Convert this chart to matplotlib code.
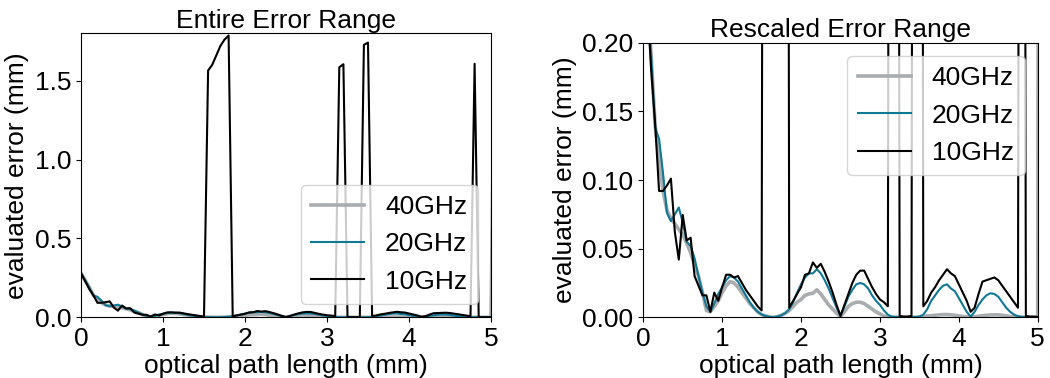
import numpy as np
import matplotlib
matplotlib.use("Agg")
import matplotlib.pyplot as plt

plt.rcParams['font.family'] = ['Liberation Sans', 'DejaVu Sans']

step_mm = 0.05  # sampling step of optical path length

err_10ghz = [0.280, 0.230, 0.180, 0.141, 0.092, 0.092, 0.096, 0.101, 0.062, 0.042,
             0.0745, 0.056, 0.058, 0.030, 0.023, 0.016, 0.016, 0.004, 0.018, 0.012,
             0.022, 0.031, 0.031, 0.029, 0.030, 0.025, 0.020, 0.016, 0.012, 0.008,
             0.005, 1.564, 1.600, 1.660, 1.720, 1.760, 1.786, 0.007, 0.012, 0.017,
             0.022, 0.031, 0.032, 0.040, 0.036, 0.039, 0.033, 0.026, 0.018, 0.009,
             0.001, 0.009, 0.017, 0.025, 0.031, 0.034, 0.034, 0.028, 0.022, 0.017,
             0.013, 0.011, 0.008, 1.585, 1.604, 0.001, 0.0005, 0.0005, 0.001, 1.727,
             1.741, 0.008, 0.012, 0.018, 0.022, 0.027, 0.031, 0.035, 0.032, 0.030,
             0.024, 0.018, 0.012, 0.004, 0.007, 0.017, 0.026, 0.027, 0.028, 0.029,
             0.027, 0.023, 0.019, 0.015, 0.011, 0.007, 1.607, 0.001, 0.0005, 0.0005,
             0.0003, 0.0003]

err_20ghz = [0.280, 0.235, 0.190, 0.138, 0.130, 0.105, 0.076, 0.070, 0.075, 0.080,
             0.069, 0.055, 0.052, 0.043, 0.030, 0.018, 0.008, 0.004, 0.010, 0.017,
             0.022, 0.027, 0.030, 0.029, 0.026, 0.021, 0.016, 0.011, 0.007, 0.004,
             0.002, 0.001, 0.0003, 0.0, 0.0005, 0.0015, 0.003, 0.006, 0.011, 0.018,
             0.024, 0.029, 0.032, 0.032, 0.035, 0.032, 0.027, 0.021, 0.014, 0.007,
             0.001, 0.008, 0.015, 0.020, 0.024, 0.025, 0.024, 0.021, 0.016, 0.012,
             0.009, 0.005, 0.002, 0.0005, 0.0002, 0.0001, 0.0, 0.0, 0.0001, 0.0002,
             0.0005, 0.002, 0.006, 0.012, 0.016, 0.020, 0.023, 0.024, 0.021, 0.019,
             0.014, 0.009, 0.004, 0.0005, 0.004, 0.009, 0.013, 0.016, 0.0175, 0.017,
             0.015, 0.011, 0.007, 0.004, 0.002, 0.0008, 0.0003, 0.0002, 0.0001, 0.0001,
             0.0001, 0.0001]

err_40ghz = [0.280, 0.235, 0.190, 0.140, 0.115, 0.092, 0.078, 0.072, 0.068, 0.064,
             0.060, 0.054, 0.047, 0.038, 0.030, 0.018, 0.005, 0.004, 0.008, 0.012,
             0.018, 0.023, 0.026, 0.025, 0.022, 0.018, 0.014, 0.010, 0.007, 0.004,
             0.002, 0.001, 0.0003, 0.0, 0.0005, 0.0015, 0.003, 0.005, 0.008, 0.011,
             0.013, 0.016, 0.017, 0.0175, 0.020, 0.017, 0.013, 0.009, 0.006, 0.003,
             0.0005, 0.004, 0.008, 0.010, 0.011, 0.011, 0.010, 0.008, 0.006, 0.004,
             0.0025, 0.001, 0.0003, 0.0001, 0.0001, 0.0001, 0.0001, 0.0001, 0.0001, 0.0001,
             0.0001, 0.0005, 0.001, 0.0012, 0.0015, 0.0018, 0.002, 0.002, 0.0018, 0.0015,
             0.001, 0.0006, 0.0003, 0.0001, 0.0004, 0.0008, 0.0012, 0.0015, 0.0017, 0.0018,
             0.0018, 0.0015, 0.001, 0.0006, 0.0003, 0.0001, 0.0001, 0.0001, 0.0001, 0.0001,
             0.0001, 2.0]

labels = ['40GHz', '20GHz', '10GHz']
colors = ['#a9adaf', '#0f7895', '#000000']
widths = [2.6, 1.5, 1.5]
titles = ['Entire Error Range', 'Rescaled Error Range']
x_ticks = [0, 1, 2, 3, 4, 5]
y_ticks_left = [0.0, 0.5, 1.0, 1.5]
y_ticks_right = [0.00, 0.05, 0.10, 0.15, 0.20]

x = np.arange(len(err_10ghz)) * step_mm
series = [err_40ghz, err_20ghz, err_10ghz]

FS = 19
fig = plt.figure(figsize=(10.5, 3.78), dpi=100)
W, H = 1050, 378
axL = fig.add_axes([81 / W, (H - 317.3) / H, 410 / W, 284 / H])
axR = fig.add_axes([643.3 / W, (H - 317.3) / H, 394.4 / W, 274.6 / H])

for ax in (axL, axR):
    for s, lab, c, lw in zip(series, labels, colors, widths):
        ax.plot(x, s, color=c, lw=lw, label=lab)
    ax.set_xlim(0, 5)
    ax.set_xticks(x_ticks)
    ax.set_xlabel('optical path length (mm)', fontsize=FS, labelpad=2)
    ax.set_ylabel('evaluated error (mm)', fontsize=FS, labelpad=4)
    ax.tick_params(labelsize=FS)

axL.set_ylim(0, 1.8)
axL.set_yticks(y_ticks_left)
axL.set_yticklabels(['0.0', '0.5', '1.0', '1.5'])
axL.set_title(titles[0], fontsize=FS, pad=4)
axL.legend(loc='lower right', fontsize=FS)

axR.set_ylim(0, 0.2)
axR.set_yticks(y_ticks_right)
axR.set_yticklabels(['0.00', '0.05', '0.10', '0.15', '0.20'])
axR.set_title(titles[1], fontsize=FS, pad=4)
axR.legend(loc='upper right', fontsize=FS)

fig.savefig('out.png', dpi=100)
